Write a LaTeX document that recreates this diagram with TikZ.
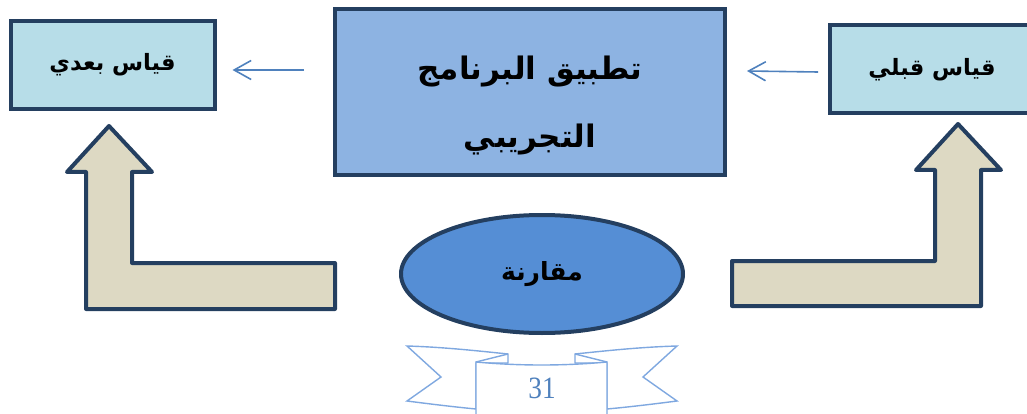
\documentclass[tikz,border=0pt]{standalone}
\usepackage{fontspec}
\usetikzlibrary{arrows.meta,shapes.geometric}
\TeXXeTstate=1
\setmainfont{Liberation Serif}
\newfontfamily\arabicfont[Script=Arabic]{DejaVu Sans}

\definecolor{edgeblue}{HTML}{243F60}
\definecolor{paleblue}{HTML}{B7DDE8}
\definecolor{midblue}{HTML}{8DB3E2}
\definecolor{ovalblue}{HTML}{558ED5}
\definecolor{sand}{HTML}{DDD9C3}
\definecolor{linkblue}{HTML}{4F81BD}
\definecolor{ribbonblue}{HTML}{7FA8E0}

\tikzset{
  measurebox/.style={draw=edgeblue, line width=4pt, fill=paleblue,
    minimum width=204pt, minimum height=88pt, inner sep=0pt,
    font=\arabicfont\bfseries\fontsize{22.5}{26}\selectfont},
  programbox/.style={draw=edgeblue, line width=4pt, fill=midblue,
    minimum width=390pt, minimum height=166pt, inner sep=0pt},
  programtext/.style={inner sep=0pt, font=\arabicfont\bfseries\fontsize{31}{38}\selectfont},
  compareoval/.style={ellipse, draw=edgeblue, line width=4pt, fill=ovalblue,
    minimum width=282pt, minimum height=118pt, inner sep=0pt,
    font=\arabicfont\bfseries\fontsize{25}{29}\selectfont},
  bentarrow/.style={draw=edgeblue, line width=4pt, fill=sand, line join=round},
  thinarrow/.style={draw=linkblue, line width=1.6pt,
    -{Straight Barb[length=17pt,width=19pt,line width=1.6pt]}},
  ribbon/.style={draw=ribbonblue, line width=1.4pt, fill=white, line join=miter},
}

\begin{document}
\begin{tikzpicture}[x=1pt,y=-1pt]
\useasboundingbox (0,0) rectangle (1027,414);
\clip (0,0) rectangle (1027,414);

% measurement and programme boxes
\node[measurebox] (post) at (112.5,65) {\beginR قياس بعدي\endR};
\node[programbox] (prog) at (530,92) {};
\node[programtext] (prog-l1) at (530,72) {\beginR تطبيق البرنامج\endR};
\node[programtext] (prog-l2) at (530,140) {\beginR التجريبي\endR};
\node[measurebox] (pre) at (932,69.5) {\beginR قياس قبلي\endR};

% comparison oval
\node[compareoval] (cmp) at (542,274) {\beginR مقارنة\endR};

% thin connectors
\coordinate (pre-out) at ([xshift=-10pt]pre.west |- 0,72);
\coordinate (prog-in) at ([xshift=20pt]prog.east |- 0,71);
\coordinate (prog-out) at ([xshift=-29pt]prog.west |- 0,70);
\coordinate (post-in) at ([xshift=16pt]post.east |- 0,70);
\draw[thinarrow] (pre-out) -- (prog-in);
\draw[thinarrow] (prog-out) -- (post-in);

% bent block arrows
\draw[bentarrow] (109,126) -- (152,172) -- (132,172) -- (132,263) -- (335,263)
  -- (335,309) -- (86,309) -- (86,172) -- (67,172) -- cycle;
\draw[bentarrow] (958,124) -- (1001,170) -- (981,170) -- (981,306) -- (732,306)
  -- (732,261) -- (935,261) -- (935,170) -- (916,170) -- cycle;

% page-number ribbon
\draw[ribbon] (508,354) .. controls (470,350) and (440,347) .. (407,346)
  -- (441,377) -- (407,401) .. controls (430,404) and (455,407) .. (476,409)
  -- (476,363) -- (508,363) -- cycle;
\draw[ribbon] (575,354) .. controls (613,350) and (643,347) .. (677,346)
  -- (643,377) -- (677,401) .. controls (654,404) and (629,407) .. (607,409)
  -- (607,363) -- (575,363) -- cycle;
\draw[ribbon] (476,430) -- (476,362) .. controls (520,366) and (563,366) .. (607,362)
  -- (607,430);
\draw[ribbon] (476,362) -- (508,354);
\draw[ribbon] (607,362) -- (575,354);
\node[text=linkblue, inner sep=0pt, font=\fontsize{31}{31}\selectfont, xscale=0.88]
  (pagenum) at (542,388) {31};
\end{tikzpicture}
\end{document}
